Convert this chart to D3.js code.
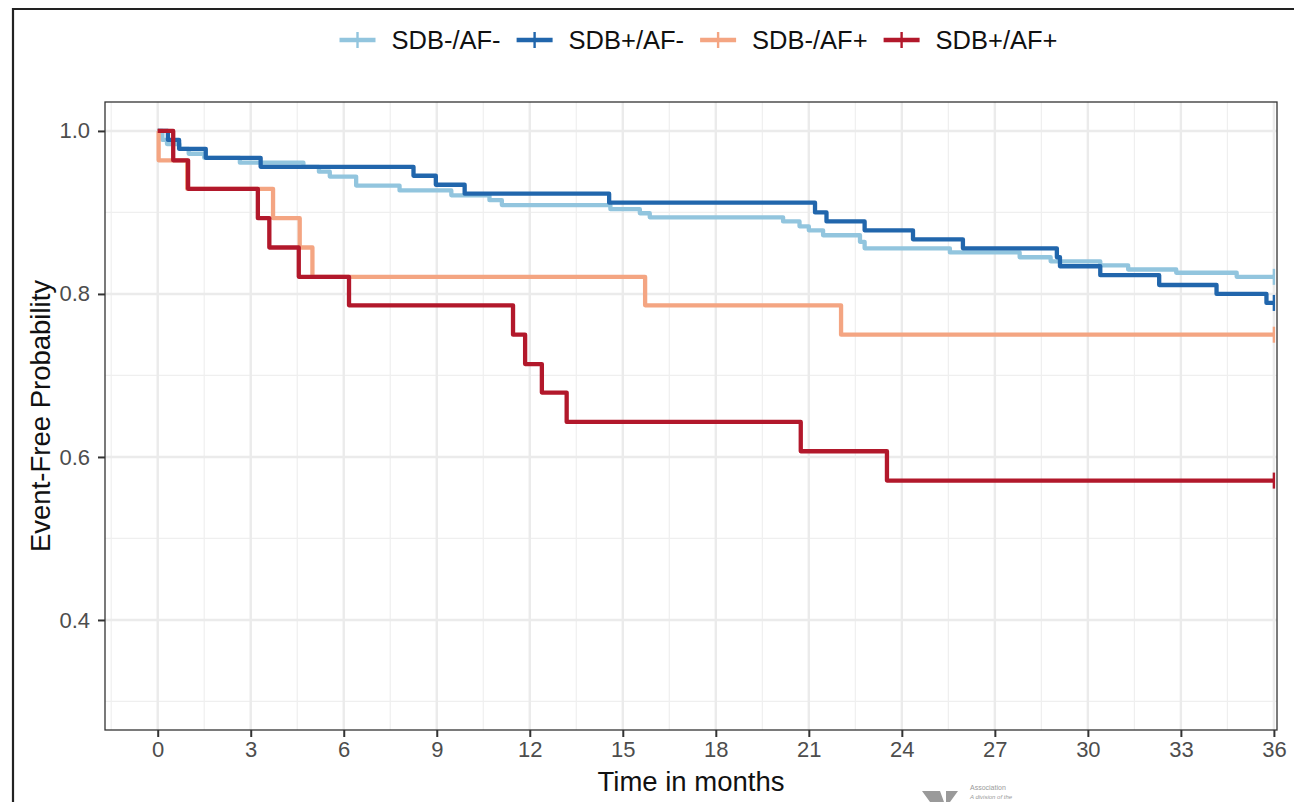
<!DOCTYPE html>
<html>
<head>
<meta charset="utf-8">
<script src="https://cdn.jsdelivr.net/npm/d3@7"></script>
<style>
  body { margin: 0; background: #fff; }
  svg { display: block; font-family: 'Liberation Sans', Arial, sans-serif; }
</style>
</head>
<body>
<div id="chart"></div>
<script>
const WIDTH = 1294;
const HEIGHT = 802;
const PANEL = { left: 105, right: 1277, top: 102, bottom: 730 };

const GROUPS = ['SDB-/AF-', 'SDB+/AF-', 'SDB-/AF+', 'SDB+/AF+'];
const COLORS = ['#92C5DE', '#2166AC', '#F4A582', '#B2182B'];

const X_TICKS = [0, 3, 6, 9, 12, 15, 18, 21, 24, 27, 30, 33, 36];
const X_MINOR = [-1.5, 1.5, 4.5, 7.5, 10.5, 13.5, 16.5, 19.5, 22.5, 25.5, 28.5, 31.5, 34.5];
const Y_TICKS = [0.4, 0.6, 0.8, 1.0];
const Y_MINOR = [0.3, 0.5, 0.7, 0.9];

// Kaplan-Meier estimates (months, event-free probability)
const sdbNegAfNegTime = [0, 0.15, 0.3, 0.7, 1.0, 1.5, 2.65, 4.7, 5.2, 5.55, 6.4, 7.8, 9.47, 10.7, 11.1,
  14.6, 15.55, 15.87, 20.17, 20.7, 21.0, 21.46, 22.65, 22.8, 25.55, 27.8, 28.8, 30.4, 31.3, 32.85, 34.8, 36];
const sdbNegAfNegSurv = [1, 0.989, 0.984, 0.978, 0.972, 0.967, 0.961, 0.956, 0.95, 0.944, 0.933, 0.927, 0.921, 0.915, 0.909,
  0.904, 0.899, 0.894, 0.889, 0.883, 0.878, 0.872, 0.864, 0.856, 0.851, 0.845, 0.84, 0.835, 0.83, 0.826, 0.821, 0.821];

const sdbPosAfNegTime = [0, 0.33, 0.69, 1.55, 3.32, 8.25, 8.97, 9.9, 14.56, 21.2, 21.57, 22.8, 24.36, 25.97,
  29.0, 29.1, 30.4, 32.3, 34.15, 35.76, 36];
const sdbPosAfNegSurv = [1, 0.989, 0.978, 0.967, 0.956, 0.945, 0.934, 0.923, 0.912, 0.9, 0.889, 0.878, 0.867, 0.856,
  0.845, 0.834, 0.823, 0.811, 0.8, 0.789, 0.789];

const sdbNegAfPosTime = [0, 0.03, 0.95, 3.72, 4.58, 4.99, 15.72, 22.04, 36];
const sdbNegAfPosSurv = [1, 0.964, 0.929, 0.893, 0.857, 0.821, 0.786, 0.75, 0.75];

const sdbPosAfPosTime = [0, 0.5, 0.98, 3.23, 3.6, 4.55, 6.17, 11.46, 11.85, 12.39, 13.19, 20.74, 23.52, 36];
const sdbPosAfPosSurv = [1, 0.964, 0.929, 0.893, 0.857, 0.821, 0.786, 0.75, 0.714, 0.679, 0.643, 0.607, 0.571, 0.571];

const curves = [
  [sdbNegAfNegTime, sdbNegAfNegSurv],
  [sdbPosAfNegTime, sdbPosAfNegSurv],
  [sdbNegAfPosTime, sdbNegAfPosSurv],
  [sdbPosAfPosTime, sdbPosAfPosSurv],
].map(([t, s], i) => ({
  name: GROUPS[i],
  color: COLORS[i],
  points: t.map((d, j) => ({ t: d, s: s[j] })),
}));

const svg = d3.select('#chart').append('svg')
  .attr('width', WIDTH)
  .attr('height', HEIGHT);

svg.append('rect')
  .attr('width', WIDTH)
  .attr('height', HEIGHT)
  .attr('fill', '#fff');

// outer frame of the figure (cut at right/bottom)
svg.append('path')
  .attr('d', `M13,${HEIGHT + 5} V9 H${WIDTH + 5}`)
  .attr('fill', 'none')
  .attr('stroke', '#222')
  .attr('stroke-width', 2.2);

const xScale = d3.scaleLinear()
  .domain([-1.7, 36.1])
  .range([PANEL.left, PANEL.right]);

const yScale = d3.scaleLinear()
  .domain([0.265, 1.0355])
  .range([PANEL.bottom, PANEL.top]);

// grid
const grid = svg.append('g').attr('id', 'grid');

grid.selectAll('.xminor')
  .data(X_MINOR)
  .enter()
  .append('line')
  .attr('x1', d => xScale(d))
  .attr('x2', d => xScale(d))
  .attr('y1', PANEL.top)
  .attr('y2', PANEL.bottom)
  .attr('stroke', '#EFEFEF')
  .attr('stroke-width', 1.2);

grid.selectAll('.yminor')
  .data(Y_MINOR)
  .enter()
  .append('line')
  .attr('x1', PANEL.left)
  .attr('x2', PANEL.right)
  .attr('y1', d => yScale(d))
  .attr('y2', d => yScale(d))
  .attr('stroke', '#EFEFEF')
  .attr('stroke-width', 1.2);

grid.selectAll('.xmajor')
  .data(X_TICKS)
  .enter()
  .append('line')
  .attr('x1', d => xScale(d))
  .attr('x2', d => xScale(d))
  .attr('y1', PANEL.top)
  .attr('y2', PANEL.bottom)
  .attr('stroke', '#EBEBEB')
  .attr('stroke-width', 2.4);

grid.selectAll('.ymajor')
  .data(Y_TICKS)
  .enter()
  .append('line')
  .attr('x1', PANEL.left)
  .attr('x2', PANEL.right)
  .attr('y1', d => yScale(d))
  .attr('y2', d => yScale(d))
  .attr('stroke', '#EBEBEB')
  .attr('stroke-width', 2.4);

// curves
const line = d3.line()
  .x(d => xScale(d.t))
  .y(d => yScale(d.s))
  .curve(d3.curveStepAfter);

const lines = svg.append('g').attr('id', 'curves');

lines.selectAll('path')
  .data(curves)
  .enter()
  .append('path')
  .attr('d', d => line(d.points))
  .attr('fill', 'none')
  .attr('stroke', d => d.color)
  .attr('stroke-width', 4.3)
  .attr('stroke-linejoin', 'round');

// censor marks at end of follow-up
lines.selectAll('line')
  .data(curves)
  .enter()
  .append('line')
  .attr('x1', d => xScale(d.points[d.points.length - 1].t))
  .attr('x2', d => xScale(d.points[d.points.length - 1].t))
  .attr('y1', d => yScale(d.points[d.points.length - 1].s) - 8)
  .attr('y2', d => yScale(d.points[d.points.length - 1].s) + 8)
  .attr('stroke', d => d.color)
  .attr('stroke-width', 2.4);

// panel border
svg.append('rect')
  .attr('x', PANEL.left)
  .attr('y', PANEL.top)
  .attr('width', PANEL.right - PANEL.left)
  .attr('height', PANEL.bottom - PANEL.top)
  .attr('fill', 'none')
  .attr('stroke', '#333')
  .attr('stroke-width', 1.3);

// axes
const xAxis = svg.append('g')
  .attr('transform', `translate(0,${PANEL.bottom})`)
  .call(d3.axisBottom(xScale).tickValues(X_TICKS).tickSize(7).tickPadding(4));

const yAxis = svg.append('g')
  .attr('transform', `translate(${PANEL.left},0)`)
  .call(d3.axisLeft(yScale).tickValues(Y_TICKS).tickFormat(d3.format('.1f')).tickSize(7).tickPadding(8));

[xAxis, yAxis].forEach(axis => {
  axis.select('.domain').remove();
  axis.selectAll('.tick line')
    .attr('stroke', '#333')
    .attr('stroke-width', 2);
  axis.selectAll('.tick text')
    .attr('fill', '#4D4D4D')
    .attr('font-size', 22)
    .attr('font-family', "'Liberation Sans', Arial, sans-serif");
});

svg.append('text')
  .attr('x', (PANEL.left + PANEL.right) / 2)
  .attr('y', 791)
  .attr('text-anchor', 'middle')
  .attr('font-size', 27.5)
  .attr('fill', '#111')
  .text('Time in months');

svg.append('text')
  .attr('transform', `translate(50,${(PANEL.top + PANEL.bottom) / 2}) rotate(-90)`)
  .attr('text-anchor', 'middle')
  .attr('font-size', 27.5)
  .attr('fill', '#111')
  .text('Event-Free Probability');

// legend
const KEY_W = 36;
const GAP = 16;
const legend = svg.append('g').attr('id', 'legend');

const items = legend.selectAll('g')
  .data(curves)
  .enter()
  .append('g');

items.append('text')
  .attr('y', 49)
  .attr('font-size', 25.5)
  .attr('fill', '#111')
  .text(d => d.name);

let cursor = 0;
items.each(function () {
  const w = d3.select(this).select('text').node().getComputedTextLength();
  d3.select(this).attr('data-x', cursor);
  d3.select(this).select('text').attr('x', cursor + KEY_W + GAP);
  cursor += KEY_W + GAP + w + GAP;
});
const legendW = cursor - GAP;
legend.attr('transform', `translate(${698.5 - legendW / 2},0)`);

items.append('line')
  .attr('x1', function () { return +this.parentNode.getAttribute('data-x'); })
  .attr('x2', function () { return +this.parentNode.getAttribute('data-x') + KEY_W; })
  .attr('y1', 40)
  .attr('y2', 40)
  .attr('stroke', d => d.color)
  .attr('stroke-width', 4.3);

items.append('line')
  .attr('x1', function () { return +this.parentNode.getAttribute('data-x') + KEY_W / 2; })
  .attr('x2', function () { return +this.parentNode.getAttribute('data-x') + KEY_W / 2; })
  .attr('y1', 32)
  .attr('y2', 48)
  .attr('stroke', d => d.color)
  .attr('stroke-width', 2.4);

// publisher mark peeking in at the bottom edge
const mark = svg.append('g').attr('fill', '#9A9A9A');
mark.append('path')
  .attr('d', 'M922,791 L940,791 L944,802 L930,802 Z M946,791 L958,791 L950,802 L946,802 Z');
mark.append('text')
  .attr('x', 970)
  .attr('y', 790)
  .attr('font-size', 7)
  .text('Association');
mark.append('text')
  .attr('x', 970)
  .attr('y', 799)
  .attr('font-size', 6)
  .attr('font-style', 'italic')
  .text('A division of the');
</script>
</body>
</html>
